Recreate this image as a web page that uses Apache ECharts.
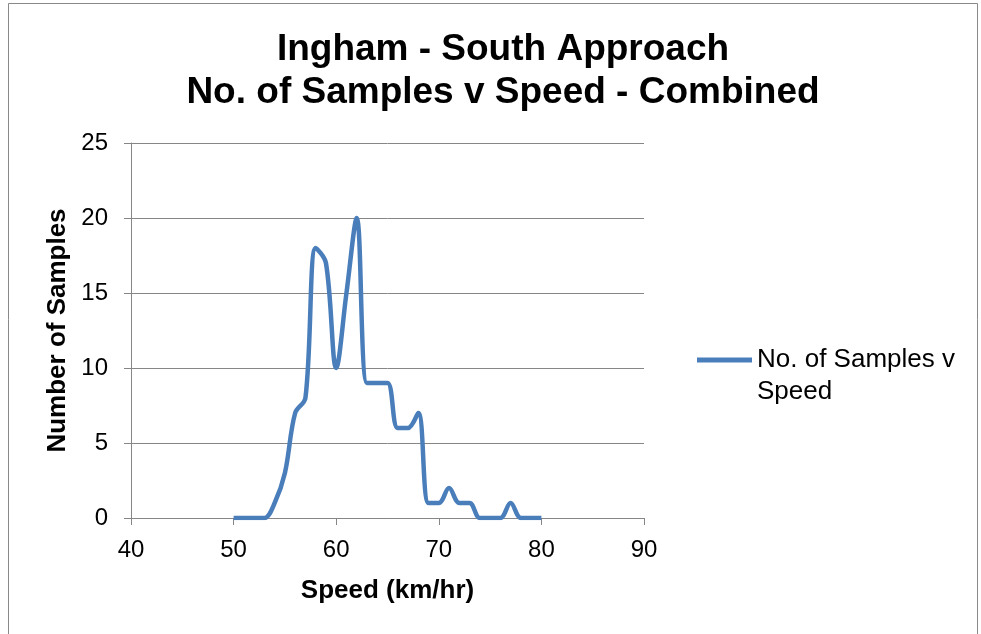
<!DOCTYPE html>
<html><head><meta charset="utf-8">
<script src="https://cdn.jsdelivr.net/npm/echarts@6/dist/echarts.min.js"></script>
<style>html,body{margin:0;padding:0;background:#fff}#c{width:981px;height:634px}</style>
</head><body><div id="c"></div>
<script>
const speeds = [50,51,52,53,54,55,56,57,58,59,60,61,62,63,64,65,66,67,68,69,70,71,72,73,74,75,76,77,78,79,80];
const samples = [0,0,0,0,1,3,7,8,18,17,10,15,20,9,9,9,6,6,7,1,1,2,1,1,0,0,0,1,0,0,0];
const xTicks = [40,50,60,70,80,90];
const yTicks = [0,5,10,15,20,25];
const seriesName = 'No. of Samples v Speed';
const titleLines = ['Ingham - South Approach', 'No. of Samples v Speed - Combined'];

const chart = echarts.init(document.getElementById('c'));
const font = 'Liberation Sans, Arial, sans-serif';
chart.setOption({
  animation: false,
  backgroundColor: '#fff',
  graphic: [{type:'rect', shape:{x:8.5,y:3.5,width:969,height:640}, style:{fill:'none', stroke:'#898989', lineWidth:1}}],
  title: {
    text: titleLines.join('\n'), left: 498, textAlign: 'center', top: 23,
    textStyle: {fontFamily: font, fontSize: 37, fontWeight: 'bold', color: '#000', lineHeight: 43}
  },
  legend: {
    left: 692, top: 307, orient: 'vertical', itemWidth: 55, itemHeight: 5, itemGap: 4,
    icon: 'rect',
    formatter: () => ' \nNo. of Samples v\nSpeed',
    textStyle: {fontFamily: font, fontSize: 26, color: '#000', lineHeight: 32},
    data: [seriesName]
  },
  grid: {left: 131, right: 337, top: 143, bottom: 116},
  xAxis: {
    type: 'value', min: xTicks[0], max: xTicks[xTicks.length-1], interval: 10,
    name: 'Speed (km/hr)', nameLocation: 'middle', nameGap: 60,
    nameTextStyle: {fontFamily: font, fontSize: 26, fontWeight: 'bold', color: '#000'},
    axisLine: {lineStyle: {color: '#868686', width: 1}},
    axisTick: {show: true, length: 7, lineStyle: {color: '#868686'}},
    axisLabel: {fontFamily: font, fontSize: 24, color: '#000', margin: 20},
    splitLine: {show: false}
  },
  yAxis: {
    type: 'value', min: yTicks[0], max: yTicks[yTicks.length-1], interval: 5,
    name: 'Number of Samples', nameLocation: 'middle', nameGap: 59, nameRotate: 90,
    nameTextStyle: {fontFamily: font, fontSize: 26, fontWeight: 'bold', color: '#000'},
    axisLine: {show: true, lineStyle: {color: '#868686', width: 1}},
    axisTick: {show: true, length: 7, lineStyle: {color: '#868686'}},
    axisLabel: {fontFamily: font, fontSize: 24, color: '#000', margin: 23},
    splitLine: {show: true, lineStyle: {color: '#868686', width: 1}}
  },
  series: [{
    name: seriesName, type: 'line', smooth: 0.35, showSymbol: false, symbol: 'none',
    lineStyle: {color: '#4a7ebb', width: 4.5}, itemStyle: {color: '#4a7ebb'},
    data: speeds.map((s, i) => [s, samples[i]])
  }]
});
</script></body></html>
